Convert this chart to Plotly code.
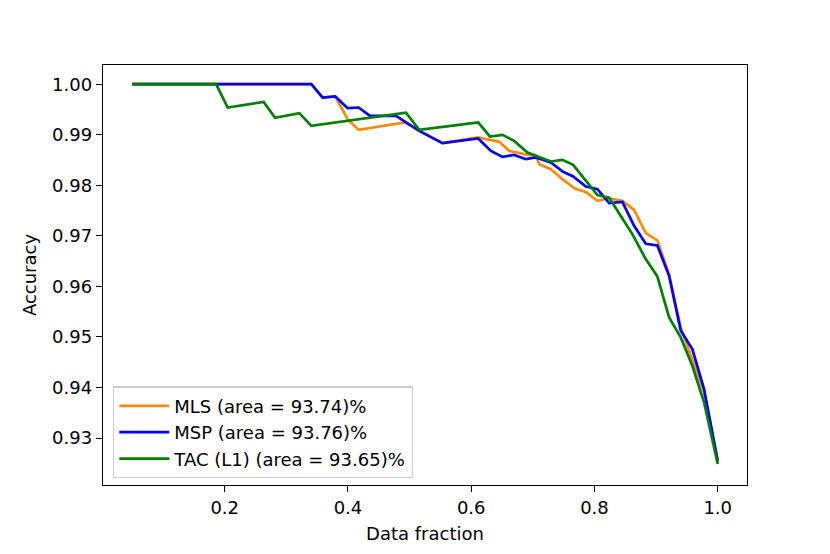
import plotly.graph_objects as go

# data
mls_x = [0.05, 0.3406, 0.3589, 0.3795, 0.3994, 0.4173, 0.493, 0.5157, 0.5535, 0.6113,
         0.6454, 0.6616, 0.6859, 0.7049, 0.7103, 0.7292, 0.748, 0.7681, 0.786, 0.8048,
         0.8238, 0.8453, 0.8643, 0.8832, 0.902, 0.9211, 0.94, 0.9588, 0.9778, 1.0]
mls_y = [1.0, 1.0, 0.99737, 0.99757, 0.99308, 0.99096, 0.99243, 0.99077, 0.98833, 0.98946,
         0.98859, 0.98681, 0.98616, 0.98583, 0.98418, 0.98319, 0.98121, 0.97937, 0.9787, 0.97692,
         0.97743, 0.97692, 0.97511, 0.97054, 0.96911, 0.96243, 0.95189, 0.94528, 0.93903, 0.9252]

msp_x = [0.05, 0.3406, 0.3589, 0.3795, 0.3994, 0.4173, 0.4358, 0.4779, 0.5157, 0.5535,
         0.6113, 0.632, 0.6508, 0.6697, 0.6887, 0.7049, 0.7292, 0.748, 0.7654, 0.786,
         0.8048, 0.8238, 0.8453, 0.8643, 0.8832, 0.902, 0.9211, 0.94, 0.9588, 0.9778, 1.0]
msp_y = [1.0, 1.0, 0.99737, 0.99757, 0.99525, 0.99539, 0.99373, 0.99373, 0.99077, 0.98833,
         0.98926, 0.98681, 0.98562, 0.98602, 0.98517, 0.9855, 0.98452, 0.98274, 0.98175, 0.97977,
         0.97924, 0.97647, 0.97673, 0.97198, 0.96843, 0.96809, 0.96209, 0.95122, 0.9476, 0.93969, 0.92551]

tac_x = [0.05, 0.186, 0.2049, 0.2632, 0.2817, 0.3211, 0.3406, 0.4941, 0.5157, 0.6113,
         0.6303, 0.6508, 0.6697, 0.6913, 0.7292, 0.748, 0.7654, 0.8048, 0.8238, 0.8615,
         0.8832, 0.902, 0.9211, 0.94, 0.9588, 0.9778, 1.0]
tac_y = [1.0, 1.0, 0.99539, 0.9965, 0.99334, 0.99427, 0.99175, 0.99437, 0.99096, 0.99243,
         0.98966, 0.98998, 0.98879, 0.98649, 0.98471, 0.98503, 0.98404, 0.97808, 0.97753, 0.97034,
         0.9654, 0.96197, 0.95387, 0.94991, 0.9443, 0.93706, 0.92486]

series = [
    ("MLS (area = 93.74)%", mls_x, mls_y, "#ff8c00"),
    ("MSP (area = 93.76)%", msp_x, msp_y, "#0000ff"),
    ("TAC (L1) (area = 93.65)%", tac_x, tac_y, "#008000"),
]

FONT = "DejaVu Sans"
FONT_SIZE = 18

fig = go.Figure()
for name, xs, ys, color in series:
    fig.add_trace(go.Scatter(x=xs, y=ys, mode="lines", name=name,
                             line=dict(color=color, width=2.7)))

# page body has an 8px default margin, so the figure is 16px smaller than the window
fig.update_layout(
    width=814, height=538,
    margin=dict(l=95, r=75, t=57, b=61),
    paper_bgcolor="white", plot_bgcolor="white",
    font=dict(family=FONT, size=FONT_SIZE, color="black"),
    legend=dict(x=0.0155, y=0.016, xanchor="left", yanchor="bottom",
                bgcolor="rgba(255,255,255,0.8)", bordercolor="#cccccc", borderwidth=1.3,
                font=dict(size=FONT_SIZE), itemwidth=50, tracegroupgap=0),
)
axis_style = dict(
    showgrid=False, zeroline=False, showline=True, linecolor="black", linewidth=1.4,
    mirror=True, ticks="outside", ticklen=6, tickwidth=1.4, tickcolor="black",
    tickfont=dict(size=FONT_SIZE), automargin=False,
)
fig.update_xaxes(
    range=[0.0025, 1.0475], tickvals=[0.2, 0.4, 0.6, 0.8, 1.0], tickformat=".1f",
    title=dict(text="Data fraction", standoff=10, font=dict(size=FONT_SIZE)),
    **axis_style,
)
fig.update_yaxes(
    range=[0.9207, 1.0038], tickvals=[0.93, 0.94, 0.95, 0.96, 0.97, 0.98, 0.99, 1.00],
    tickformat=".2f",
    title=dict(text="Accuracy", standoff=10, font=dict(size=FONT_SIZE)),
    **axis_style,
)

fig.write_html("out.html")
